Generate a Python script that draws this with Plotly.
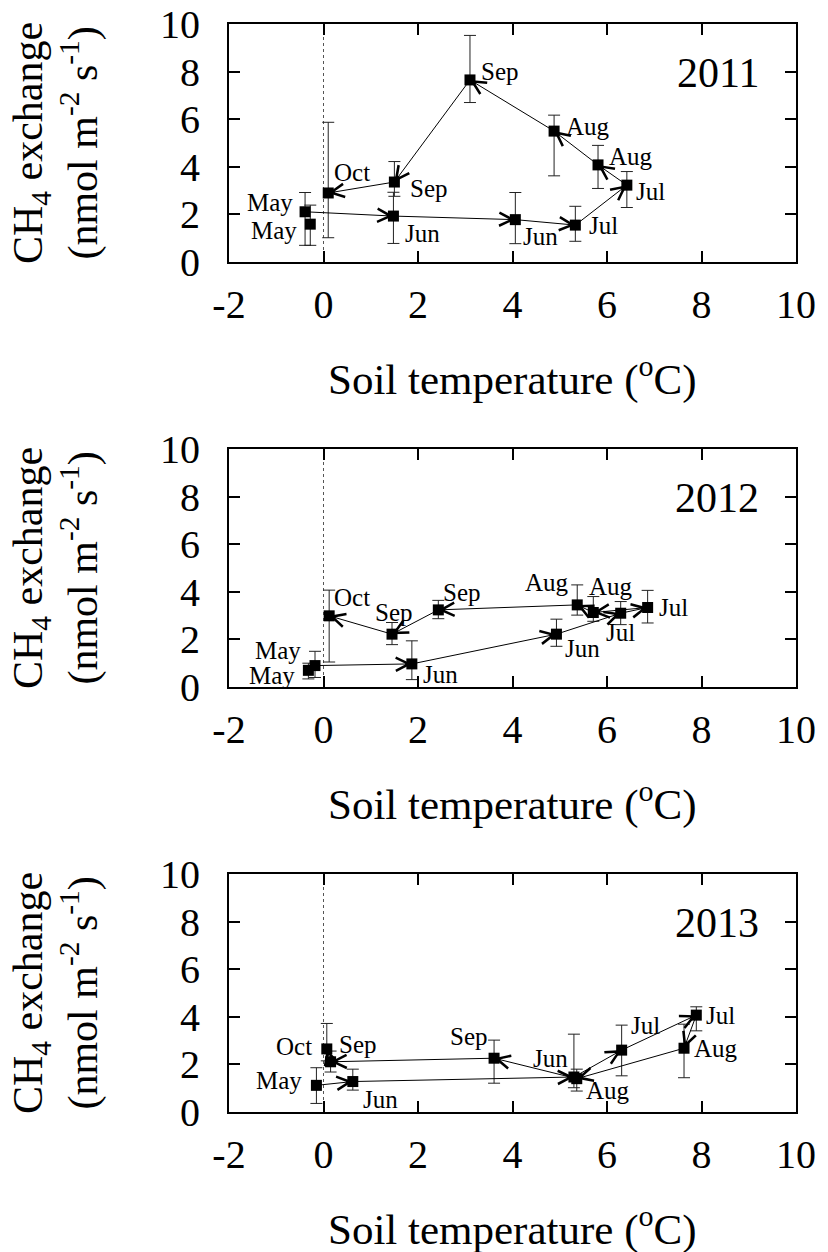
import plotly.graph_objects as go

# ---------------- data ----------------
years = ["2011", "2012", "2013"]

months_2011 = ["May", "May", "Jun", "Jun", "Jul", "Jul", "Aug", "Aug", "Sep", "Sep", "Oct"]
temp_2011 = [-0.28, -0.39, 1.48, 4.06, 5.33, 6.42, 5.81, 4.88, 3.10, 1.50, 0.10]
flux_2011 = [1.59, 2.11, 1.93, 1.78, 1.55, 3.23, 4.08, 5.50, 7.65, 3.36, 2.90]
errp_2011 = [0.80, 0.81, 1.00, 1.14, 0.79, 0.57, 0.82, 0.67, 1.87, 0.86, 2.97]
errm_2011 = [0.89, 1.41, 1.15, 1.01, 0.68, 0.94, 0.99, 1.88, 0.95, 0.60, 1.88]

months_2012 = ["May", "May", "Jun", "Jun", "Jul", "Jul", "Aug", "Aug", "Sep", "Sep", "Oct"]
temp_2012 = [-0.32, -0.18, 1.87, 4.93, 6.29, 6.86, 5.71, 5.37, 2.43, 1.45, 0.12]
flux_2012 = [0.70, 0.90, 0.97, 2.22, 3.10, 3.34, 3.13, 3.45, 3.24, 2.22, 2.99]
errp_2012 = [0.30, 0.60, 0.97, 0.63, 0.49, 0.72, 0.67, 0.84, 0.40, 0.49, 1.08]
errm_2012 = [0.36, 0.50, 0.66, 0.51, 0.48, 0.65, 0.37, 0.43, 0.37, 0.44, 1.94]

months_2013 = ["May", "Jun", "Jun", "Jul", "Jul", "Aug", "Aug", "Sep", "Sep", "Oct"]
temp_2013 = [-0.15, 0.62, 5.30, 6.31, 7.89, 7.63, 5.36, 3.61, 0.15, 0.07]
flux_2013 = [1.12, 1.28, 1.47, 2.60, 4.07, 2.68, 1.40, 2.26, 2.11, 2.65]
errp_2013 = [0.74, 0.52, 1.80, 1.05, 0.35, 1.01, 0.40, 0.76, 0.45, 1.07]
errm_2013 = [0.76, 0.36, 0.45, 1.08, 0.66, 1.24, 0.52, 1.05, 0.43, 0.50]

x_ticks = [-2, 0, 2, 4, 6, 8, 10]
x_ticktext = ["-2", "0", "2", "4", "6", "8", "10"]
y_ticks = [0, 2, 4, 6, 8, 10]

# ---------------- styling (label placement, layout) ----------------
# (xanchor, xshift px, yshift px up)
lab_2011 = [("right", -12, -6), ("right", -11, 9), ("left", 11, -17), ("left", 7, -17),
            ("left", 13, 0), ("left", 8, -6), ("left", 10, 8), ("left", 11, 5),
            ("left", 10, 8), ("left", 15, -6), ("left", 5, 20)]
lab_2012 = [("right", -12, -5), ("right", -13, 15), ("left", 10, -11), ("left", 8, -14),
            ("center", 0, -19), ("left", 10, 0), ("left", -5, 26), ("right", -7, 22),
            ("left", 4, 17), ("center", 2, 22), ("left", 4, 18)]
lab_2013 = [("right", -13, 5), ("left", 9, -18), ("right", -5, 19), ("left", 8, 25),
            ("left", 9, 0), ("left", 9, 0), ("left", 8, -12), ("right", -5, 22),
            ("left", 7, 17), ("right", -14, 2)]
path_start = [1, 1, 0]

panels = [
    (months_2011, temp_2011, flux_2011, errp_2011, errm_2011, lab_2011),
    (months_2012, temp_2012, flux_2012, errp_2012, errm_2012, lab_2012),
    (months_2013, temp_2013, flux_2013, errp_2013, errm_2013, lab_2013),
]

W, H = 828, 1252
box_left, box_right = 229, 796
box_tops = [24, 449, 874]
box_h = 238
FONT = "Liberation Serif, Times New Roman, serif"

fig = go.Figure()
annotations = []
shapes = []

for k, (months, temp, flux, errp, errm, labs) in enumerate(panels):
    sfx = "" if k == 0 else str(k + 1)
    xref, yref = "x" + sfx, "y" + sfx
    top_px = box_tops[k]
    bot_px = top_px + box_h
    dom = [1 - bot_px / H, 1 - top_px / H]

    fig.add_trace(go.Scatter(
        x=temp, y=flux, mode="markers", xaxis=xref, yaxis=yref,
        marker=dict(symbol="square", size=11, color="black"),
        error_y=dict(type="data", symmetric=False, array=errp, arrayminus=errm,
                     color="#222", thickness=1, width=6),
        showlegend=False, hoverinfo="skip"))

    # arrows connecting consecutive measurements
    for i in range(path_start[k], len(temp) - 1):
        annotations.append(dict(
            x=temp[i + 1], y=flux[i + 1], ax=temp[i], ay=flux[i],
            xref=xref, yref=yref, axref=xref, ayref=yref,
            text="", showarrow=True, arrowhead=5, arrowsize=2.6, arrowwidth=1,
            arrowcolor="black", standoff=0, startstandoff=0))

    # month labels
    for i, m in enumerate(months):
        anc, dx, dy = labs[i]
        annotations.append(dict(
            x=temp[i], y=flux[i], xref=xref, yref=yref, text=m, showarrow=False,
            xanchor=anc, yanchor="middle", xshift=dx, yshift=dy, borderpad=0,
            font=dict(family=FONT, size=25, color="black")))

    # year label
    annotations.append(dict(
        x=9.25, y=7.95, xref=xref, yref=yref, text=years[k], showarrow=False,
        xanchor="right", yanchor="middle",
        font=dict(family=FONT, size=42, color="black")))

    # dotted zero line
    shapes.append(dict(type="line", xref=xref, yref=yref, x0=0, x1=0, y0=0, y1=10,
                       line=dict(color="#555", width=1, dash="dot"), layer="below"))

    # y axis title
    annotations.append(dict(
        x=56 / W, y=1 - (top_px + box_h / 2) / H, xref="paper", yref="paper",
        text="CH<sub>4</sub> exchange<br>(nmol m<sup>-2</sup> s<sup>-1</sup>)",
        textangle=-90, showarrow=False, xanchor="center", yanchor="middle",
        font=dict(family=FONT, size=42, color="black")))
    # x axis title
    annotations.append(dict(
        x=(box_left + box_right) / 2 / W, y=1 - (bot_px + 114) / H,
        xref="paper", yref="paper",
        text="Soil temperature (<sup>o</sup>C)", showarrow=False,
        xanchor="center", yanchor="middle", borderpad=0,
        font=dict(family=FONT, size=43, color="black")))

    axis_common = dict(showline=True, linecolor="black", linewidth=2, mirror="ticks",
                       ticks="inside", ticklen=11, tickwidth=1.5, tickcolor="black",
                       showgrid=False, zeroline=False, automargin=False,
                       tickfont=dict(family=FONT, size=40, color="black"))
    fig.update_layout(**{
        "xaxis" + sfx: dict(domain=[box_left / W, box_right / W], range=[-2, 10],
                            tickvals=x_ticks, ticktext=x_ticktext, anchor=yref,
                            ticklabelstandoff=6, **axis_common),
        "yaxis" + sfx: dict(domain=dom, range=[0, 10], tickvals=y_ticks, anchor=xref,
                            ticklabelstandoff=19, **axis_common),
    })

fig.update_layout(template="none", width=W, height=H, autosize=False,
                  margin=dict(l=0, r=0, t=0, b=0, pad=0),
                  paper_bgcolor="white", plot_bgcolor="white",
                  annotations=annotations, shapes=shapes,
                  font=dict(family=FONT, color="black"))

fig.write_html("out.html")
